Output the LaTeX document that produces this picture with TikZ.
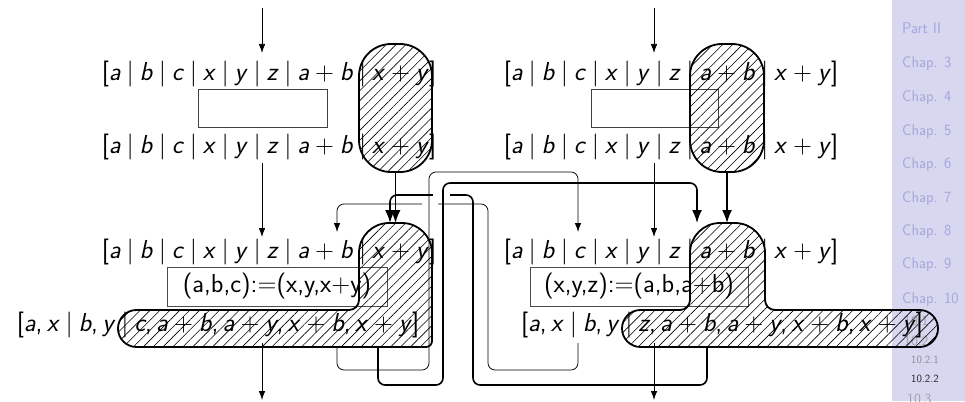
\documentclass[tikz,border=0pt]{standalone}
\usetikzlibrary{arrows.meta,patterns.meta}
\definecolor{sidebg}{RGB}{215,215,240}
\definecolor{sidefg}{RGB}{166,166,220}
\definecolor{subfg}{RGB}{140,140,150}
\newcommand\mi[1]{\textit{#1}}
\newcommand\sepb{\hspace{0.22em}|\hspace{0.22em}}
\newcommand\plusop{\:+\:}
\newcommand\rowfull{[\mi{a}\sepb\mi{b}\sepb\mi{c}\sepb\mi{x}\sepb\mi{y}\sepb\mi{z}\sepb\mi{a}\plusop\mi{b}\sepb\mi{x}\plusop\mi{y}]}
\newcommand\rowmix[1]{[\mi{a},\,\mi{x}\sepb\mi{b},\,\mi{y}\sepb\mi{#1},\,\mi{a}\plusop\mi{b},\,\mi{a}\plusop\mi{y},\,\mi{x}\plusop\mi{b},\,\mi{x}\plusop\mi{y}]}
\begin{document}
\begin{tikzpicture}[x=1pt,y=1pt,yscale=-1,
  every node/.style={font=\sffamily\fontsize{26}{30}\selectfont},
  rowtxt/.style={inner sep=0pt, anchor=base},
  opbox/.style={draw=black!70, line width=0.8pt, inner sep=0pt, minimum height=39pt},
  emptybox/.style={draw=black!75, line width=0.8pt, inner sep=0pt, minimum height=38pt},
  hatch/.style={draw, line width=1.8pt, pattern={Lines[angle=45,distance=7pt,line width=0.6pt]}},
  thinw/.style={line width=0.75pt, rounded corners=7pt, -{Latex[length=9pt,width=6.5pt]}},
  thickw/.style={line width=1.6pt, rounded corners=7pt, -{Latex[length=13pt,width=10pt]}},
  side/.style={inner sep=0pt, anchor=base west, text=sidefg, font=\sffamily\fontsize{15.5}{18}\selectfont},
  sidesec/.style={inner sep=0pt, anchor=base west, text=subfg!80, font=\sffamily\fontsize{14}{16}\selectfont},
  sidesub/.style={inner sep=0pt, anchor=base west, text=subfg, font=\sffamily\fontsize{11}{13}\selectfont}
]
\useasboundingbox (0,0) rectangle (965,401);
% sidebar
\fill[sidebg] (892,0) rectangle (965,401);
\node[side] (s0) at (902,-2) {Chap. 2};
\node[side] (s1) at (902,33.5) {Part II};
\node[side] (s2) at (902,67.5) {Chap. 3};
\node[side] (s3) at (902,101.5) {Chap. 4};
\node[side] (s4) at (902,135.5) {Chap. 5};
\node[side] (s5) at (902,168.5) {Chap. 6};
\node[side] (s6) at (902,202.5) {Chap. 7};
\node[side] (s7) at (902,235.5) {Chap. 8};
\node[side] (s8) at (902,268.5) {Chap. 9};
\node[side] (s9) at (902,303.5) {Chap. 10};
\node[sidesec] (t1) at (904,325) {10.1};
\node[sidesec] (t2) at (904,345) {10.2};
\node[sidesub] (t3) at (911,363) {10.2.1};
\node[sidesub, text=black!85] (t4) at (911,382) {10.2.2};
\node[sidesec] (t5) at (907,403) {10.3};

% rows
\node[rowtxt] (l1) at (269,80.5) {\rowfull};
\node[rowtxt] (l2) at (269,153.5) {\rowfull};
\node[rowtxt] (l3) at (269,258.5) {\rowfull};
\node[rowtxt] (l4) at (218,331.5) {\rowmix{c}};
\node[rowtxt] (r1) at (671,80.5) {\rowfull};
\node[rowtxt] (r2) at (671,153.5) {\rowfull};
\node[rowtxt] (r3) at (671,258.5) {\rowfull};
\node[rowtxt] (r4) at (722,331.5) {\rowmix{z}};

% boxes
\node[emptybox, minimum width=129pt] (le) at (262.5,108) {};
\node[emptybox, minimum width=127pt] (re) at (654.5,108) {};
\node[opbox, minimum width=220pt] (lop) at (277,286.5) {(a,b,c):=(x,y,x+y)};
\node[opbox, minimum width=218pt] (rop) at (639,286.5) {(x,y,z):=(a,b,a+b)};

% hatched regions
\path[hatch, rounded corners=32pt] (359,44) rectangle (432,172);
\path[hatch, rounded corners=32pt] (690,44) rectangle (764,172);
\path[hatch] (389,223) -- (402,223) arc[start angle=270,end angle=360,radius=30]
  -- (432,341) arc[start angle=0,end angle=90,radius=6]
  -- (136.5,347) arc[start angle=90,end angle=270,radius=18.5]
  -- (349,310) arc[start angle=90,end angle=0,radius=10]
  -- (359,253) arc[start angle=180,end angle=270,radius=30] -- cycle;
\path[hatch] (720,223) -- (735,223) arc[start angle=270,end angle=360,radius=30]
  -- (765,300) arc[start angle=180,end angle=90,radius=10]
  -- (919.5,310) arc[start angle=270,end angle=450,radius=18.5]
  -- (640.5,347) arc[start angle=90,end angle=270,radius=18.5]
  -- (680,310) arc[start angle=90,end angle=0,radius=10]
  -- (690,253) arc[start angle=180,end angle=270,radius=30] -- cycle;

% named end points
\coordinate (lt) at (262,8);   \coordinate (lte) at (262,53);
\coordinate (rt) at (654,8);   \coordinate (rte) at (654,53);
\coordinate (lm) at (262,163); \coordinate (lme) at (262,237);
\coordinate (rm) at (654,163); \coordinate (rme) at (654,237);
\coordinate (lb) at (262,343); \coordinate (lbe) at (262,400);
\coordinate (rb) at (654,343); \coordinate (rbe) at (654,400);
\coordinate (hl1) at (395.5,172); \coordinate (hl2) at (395.5,223);
\coordinate (hr1) at (727,172);   \coordinate (hr2) at (727,223);
\coordinate (dS) at (578,343);  \coordinate (dE) at (337,232);
\coordinate (aS) at (337,347);  \coordinate (aE) at (578,232);
\coordinate (cS) at (707,347);  \coordinate (cE) at (390,223);
\coordinate (bS) at (378,347);  \coordinate (bE) at (697,223);

% thin straight arrows
\draw[thinw] (lt) -- (lte);
\draw[thinw] (rt) -- (rte);
\draw[thinw] (lm) -- (lme);
\draw[thinw] (rm) -- (rme);
\draw[thinw] (lb) -- (lbe);
\draw[thinw] (rb) -- (rbe);

% crossing wires
\draw[thinw] (dS) -- (578,370) -- (488,370) -- (488,204) -- (337,204) -- (dE);
\draw[white, line width=3pt] (422,204) -- (438,204);
\draw[thinw] (aS) -- (337,370) -- (429,370) -- (429,172) -- (578,172) -- (aE);
\draw[thickw] (cS) -- (707,385) -- (473,385) -- (473,195) -- (390,195) -- (cE);
\draw[white, line width=4pt] (433,195) -- (450,195);
\draw[thickw] (bS) -- (378,385) -- (443,385) -- (443,183) -- (697,183) -- (bE);
\draw[thickw] (hl1) -- (hl2);
\draw[thickw] (hr1) -- (hr2);
\end{tikzpicture}
\end{document}
